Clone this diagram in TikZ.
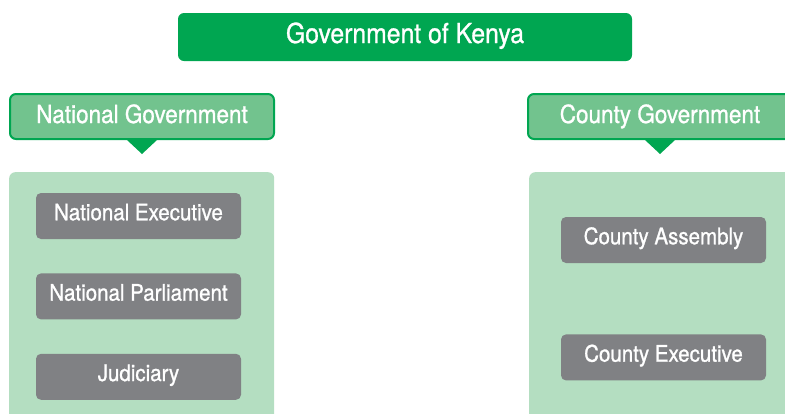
\documentclass[tikz,border=0pt]{standalone}
\usepackage{fontspec}
\setmainfont[FakeStretch=0.9,FakeBold=1]{TeX Gyre Heros}
\usetikzlibrary{positioning}
\definecolor{kgreen}{HTML}{00A651}
\definecolor{mint}{HTML}{72C38E}
\definecolor{pale}{HTML}{B4DEC1}
\definecolor{slate}{HTML}{808184}

\begin{document}
\begin{tikzpicture}[x=1pt,y=-1pt,text=white,title/.style={rounded corners=6pt,fill=kgreen,minimum width=454pt,minimum height=48pt,text height=20pt,text depth=8pt,font=\fontsize{27.5}{30}\selectfont},header/.style={rounded corners=6pt,draw=kgreen,line width=2pt,fill=mint,minimum width=264pt,minimum height=45pt,text height=18pt,text depth=5pt,font=\fontsize{25}{28}\selectfont},panel/.style={rounded corners=6pt,fill=pale,minimum width=265pt,minimum height=280pt,anchor=north west},branch/.style={rounded corners=5pt,fill=slate,minimum width=205pt,minimum height=46pt,text height=16.5pt,text depth=8pt,font=\fontsize{22.8}{25}\selectfont}]
 \useasboundingbox (0,0) rectangle (785,413);
 \clip (0,0) rectangle (785,413);
 \node[title] (kenya) at (405,37) {Government of Kenya};
 % the two levels, each with its pointer
 \node[header] (national) at (142,116.5) {National Government};
 \node[header] (county) at (660,116.5) {County Government};
 \foreach \lvl in {national,county}
  \fill[kgreen] ([xshift=-15pt]\lvl.south) -- ([xshift=15pt]\lvl.south) -- ([yshift=-14pt]\lvl.south) -- cycle;
 \node[panel] (natpanel) at (9,172) {};
 \node[panel] (cntpanel) at (529,172) {};
 % arms of each level
 \node[branch] (natexec) at (138.5,216) {National Executive};
 \node[branch,below=34pt of natexec] (parliament) {National Parliament};
 \node[branch,below=34pt of parliament] (judiciary) {Judiciary};
 \node[branch] (assembly) at (663.5,240) {County Assembly};
 \node[branch,below=71pt of assembly] (cntexec) {County Executive};
\end{tikzpicture}
\end{document}
